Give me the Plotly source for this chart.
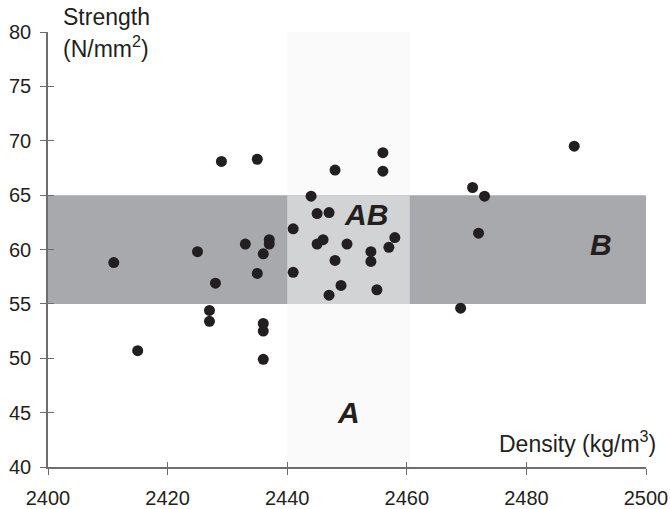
import plotly.graph_objects as go

# Data
density = [2411, 2415, 2429, 2435, 2425, 2428, 2427, 2427, 2433, 2437,
           2437, 2436, 2435, 2436, 2436, 2436, 2441, 2441,
           2456, 2456, 2448, 2444, 2445, 2447, 2446, 2445, 2450, 2448,
           2454, 2454, 2458, 2457, 2449, 2447, 2455,
           2488, 2471, 2473, 2472, 2469]
strength = [58.8, 50.7, 68.1, 68.3, 59.8, 56.9, 54.4, 53.4, 60.5, 60.9,
            60.5, 59.6, 57.8, 53.2, 52.5, 49.9, 61.9, 57.9,
            68.9, 67.2, 67.3, 64.9, 63.3, 63.4, 60.9, 60.5, 60.5, 59.0,
            59.8, 58.9, 61.1, 60.2, 56.7, 55.8, 56.3,
            69.5, 65.7, 64.9, 61.5, 54.6]

x_ticks = [2400, 2420, 2440, 2460, 2480, 2500]
y_ticks = [40, 45, 50, 55, 60, 65, 70, 75, 80]

# Zone limits
band_y = [55, 65]          # strength band (B)
band_x = [2440, 2460.5]    # density band (A)
x_range = [2400, 2500]
y_range = [40, 80]

zone_labels = ["AB", "B", "A"]
zone_x = [2453.1, 2492.5, 2450.2]
zone_y = [63.25, 60.5, 45.0]

FONT = "Liberation Sans, Arial, Helvetica, sans-serif"
INK = "#231f20"
AXIS = "#6d6e71"

fig = go.Figure()

fig.add_trace(go.Scatter(
    x=density, y=strength, mode="markers",
    marker=dict(size=11, color=INK, line=dict(width=0)),
    showlegend=False, hoverinfo="x+y"))

# invisible trace to anchor overlay axes (crossing ticks)
fig.add_trace(go.Scatter(x=x_range, y=y_range, mode="markers",
                         marker=dict(opacity=0), xaxis="x2", yaxis="y2",
                         showlegend=False, hoverinfo="skip"))

shapes = [
    dict(type="rect", xref="x", yref="y", x0=band_x[0], x1=band_x[1],
         y0=y_range[0], y1=y_range[1], fillcolor="#fafafa",
         line=dict(width=0), layer="below"),
    dict(type="rect", xref="x", yref="y", x0=x_range[0], x1=x_range[1],
         y0=band_y[0], y1=band_y[1], fillcolor="#a7a9ac",
         line=dict(width=0), layer="below"),
    dict(type="rect", xref="x", yref="y", x0=band_x[0], x1=band_x[1],
         y0=band_y[0], y1=band_y[1], fillcolor="#d1d3d4",
         line=dict(width=0), layer="below"),
]

annotations = []
for t, xx, yy in zip(zone_labels, zone_x, zone_y):
    annotations.append(dict(
        x=xx, y=yy, xref="x", yref="y", text=f"<b><i>{t}</i></b>",
        showarrow=False, font=dict(family=FONT, size=30, color=INK)))

annotations += [
    dict(x=0.022, y=1.035, xref="paper", yref="paper", text="Strength",
         showarrow=False, xanchor="left", yanchor="middle",
         font=dict(family=FONT, size=23, color=INK)),
    dict(x=0.022, y=0.966, xref="paper", yref="paper", text="(N/mm<sup>2</sup>)",
         showarrow=False, xanchor="left", yanchor="middle",
         font=dict(family=FONT, size=23, color=INK)),
    dict(x=1.02, y=0.058, xref="paper", yref="paper", text="Density (kg/m<sup>3</sup>)",
         showarrow=False, xanchor="right", yanchor="middle",
         font=dict(family=FONT, size=23, color=INK)),
]

axis_common = dict(showgrid=False, zeroline=False, showline=True,
                   linecolor=AXIS, linewidth=1.5, tickcolor=AXIS,
                   tickwidth=1.2, ticklen=6, automargin=False,
                   tickfont=dict(family=FONT, size=20, color=INK))

fig.update_layout(
    width=670, height=509,
    margin=dict(l=48, r=24, t=32, b=42),
    paper_bgcolor="white", plot_bgcolor="white",
    shapes=shapes, annotations=annotations,
    xaxis=dict(range=x_range, tickvals=x_ticks, ticks="outside",
               ticklabelstandoff=6, **axis_common),
    yaxis=dict(range=y_range, tickvals=y_ticks, ticks="outside",
               ticklabelstandoff=5, **axis_common),
    xaxis2=dict(range=x_range, tickvals=x_ticks, ticks="inside",
                overlaying="x", showticklabels=False, showline=False,
                showgrid=False, zeroline=False, tickcolor=AXIS,
                tickwidth=1.2, ticklen=5, automargin=False),
    yaxis2=dict(range=y_range, tickvals=y_ticks, ticks="inside",
                overlaying="y", showticklabels=False, showline=False,
                showgrid=False, zeroline=False, tickcolor=AXIS,
                tickwidth=1.2, ticklen=6, automargin=False),
)

fig.write_html(
    "out.html",
    config={"displayModeBar": False},
    post_script="document.body.style.margin='0';"
                "document.body.style.overflow='hidden';",
)
